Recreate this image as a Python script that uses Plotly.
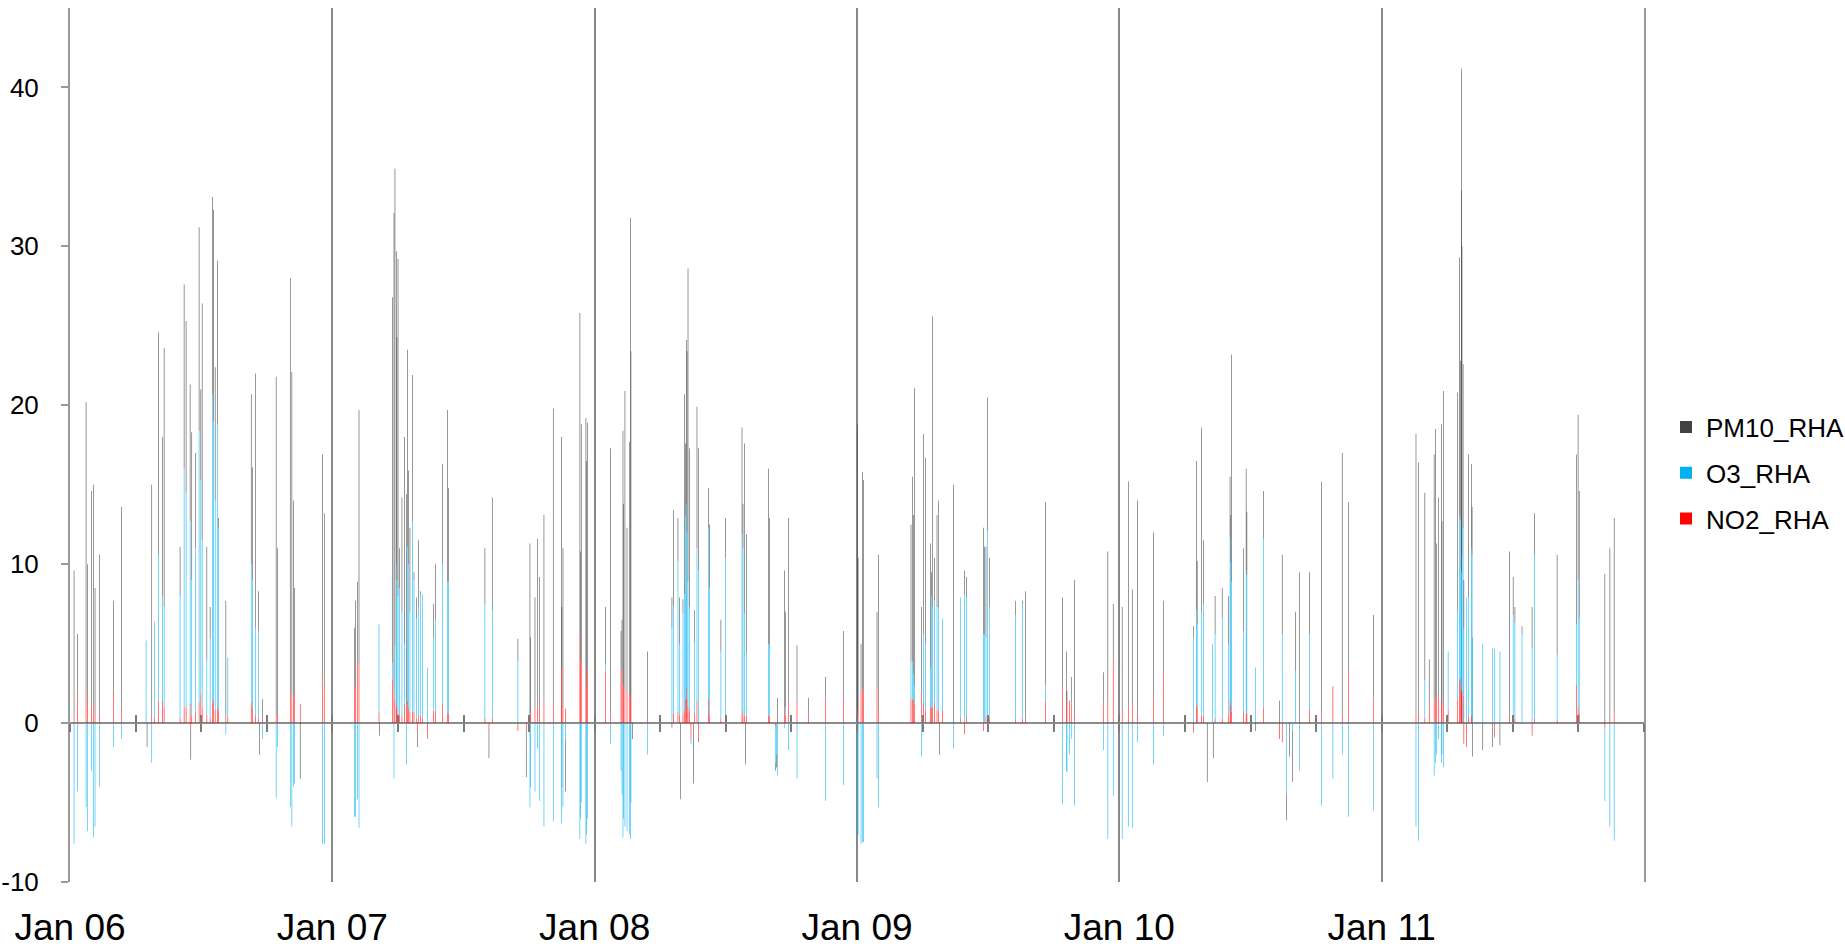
import pandas as pd
import plotly.graph_objects as go

# ---------------- data (hours after 2021-01-06 00:00) ----------------
hours = [
    0.37, 0.67, 1.47, 1.59, 1.98, 2.14, 2.29, 2.69, 3.97, 4.73, 6.96, 7.05, 7.48, 7.72, 8.09, 8.46, 8.61,
    10.07, 10.44, 10.62, 10.99, 11.05, 11.14, 11.5, 11.81, 11.97, 12.09, 12.52, 12.82, 13.03, 13.13, 13.28,
    13.49, 13.58, 14.26, 14.44, 16.58, 16.68, 16.97, 17.25, 17.32, 17.61, 18.86, 18.99, 20.15, 20.3, 20.45,
    20.54, 21.06, 23.11, 23.26,
    26.04, 26.13, 26.29, 26.44, 28.27, 28.33, 29.49, 29.64, 29.73, 29.85, 29.91, 30.01, 30.16, 30.37, 30.62,
    30.77, 30.89, 30.95, 31.1, 31.35, 31.47, 31.71, 31.77, 31.9, 32.08, 32.23, 32.69, 33.24, 33.45, 34.06,
    34.52, 34.61, 37.96, 38.33, 38.63, 40.98, 41.74, 42.08, 42.14, 42.54, 42.78, 42.93, 43.36, 44.21, 44.95,
    45.0, 45.1, 45.34, 46.65, 46.71, 46.77, 47.2, 47.26, 47.35,
    49.01, 49.43, 50.41, 50.5, 50.59, 50.65, 50.77, 50.96, 51.17, 51.26, 51.32, 51.48, 52.85, 55.07, 55.23,
    55.62, 55.77, 55.84, 56.08, 56.23, 56.29, 56.38, 56.45, 56.54, 56.66, 56.81, 57.05, 57.15, 57.36, 57.51,
    58.43, 58.49, 59.55, 59.98, 61.48, 61.57, 61.72, 61.78, 61.9, 63.91, 64.0, 64.52, 64.63, 64.74, 65.35,
    65.44, 65.74, 66.51, 67.57, 69.13, 70.77,
    72.04, 72.1, 72.37, 72.52, 72.61, 73.83, 73.98, 76.94, 77.09, 77.15, 77.24, 77.91, 78.1, 78.28, 78.71,
    78.8, 78.92, 79.1, 79.32, 79.47, 79.53, 79.84, 80.84, 81.45, 81.85, 82.0, 83.59, 83.68, 83.8, 83.95,
    84.1, 86.48, 87.15, 87.4, 89.23, 90.81, 91.15, 91.21, 91.45, 91.6, 91.91, 94.53, 94.95, 95.44,
    96.26, 96.82, 97.18, 97.67, 99.14, 100.02, 102.8, 103.06, 103.12, 103.52, 103.71, 104.04, 104.53,
    104.59, 104.76, 105.41, 106.0, 106.13, 106.2, 106.26, 107.37, 107.6, 107.67, 108.45, 109.17, 110.64,
    110.9, 111.29, 111.56, 111.85, 112.11, 112.47, 113.39, 114.5, 115.54, 116.39, 116.95, 119.24,
    123.14, 123.37, 123.95, 124.35, 124.8, 124.93, 125.0, 125.2, 125.46, 125.52, 125.65, 126.08, 126.96,
    127.12, 127.19, 127.29, 127.32, 127.35, 127.45, 127.52, 127.78, 127.94, 128.2, 128.27, 128.33, 129.25,
    130.16, 130.33, 130.82, 131.7, 132.03, 132.19, 132.84, 133.76, 133.99, 136.05, 137.81, 137.97, 138.07,
    140.42, 140.88, 141.27,
]

pm10 = [
    9.1, 3.8, 18.2, 9.0, 13.6, 13.8, 8.0, 10.2, 5.7, 12.8, 0.0, -1.5, 14.5, 0.0, 14.0, 10.0, 16.3,
    3.1, 11.6, 10.8, 8.6, -2.0, 9.3, 6.0, 12.8, 5.7, 14.9, 7.1, 2.0, 12.4, 13.3, 8.4,
    10.3, 0.6, 7.2, 0.0, 10.7, 7.1, 16.0, 2.5, -2.0, 1.2, 21.3, 10.5, 26.0, 20.5, 12.5,
    6.5, -3.5, 14.0, 11.0,
    3.5, 5.5, 5.0, 16.0, 0.0, -0.8, 23.0, 30.0, 30.0, 19.7, 15.3, 21.2, 2.5, 7.2, 13.0,
    13.4, 12.4, 5.9, 5.3, 9.2, 0.5, 1.3, -1.0, 4.2, 0.2, 0.0, 0.0, 2.1, 3.5, 6.3,
    10.8, 5.9, 3.5, -1.7, 7.1, 1.4, -3.0, 10.7, 4.8, 6.9, 10.6, 8.2, 11.6, 18.6, 14.5,
    3.8, 10.0, -3.3, 20.1, 6.8, 15.0, 17.0, 13.5, 15.5,
    3.6, 16.8, 2.3, 3.2, 16.0, 11.5, 18.8, 10.5, 15.7, 30.0, 22.0, -1.0, 4.3, 1.9, 6.0,
    2.7, 2.9, -4.8, 0.9, 12.6, 4.6, 10.3, 11.4, 19.7, 10.0, 0.0, -3.5, 2.0, 8.9, 7.7,
    2.5, 4.0, 2.0, 2.5, 6.7, 2.8, 10.7, -2.6, 7.4, 11.0, 8.0, -0.5, -0.8, 1.3, 8.7,
    6.0, 11.6, 3.5, 1.1, 1.2, 4.1,
    18.0, 9.6, 3.0, 13.6, 13.3, 4.8, 10.0, 8.6, 11.6, 10.0, 18.7, 5.3, 12.6, 11.7, 7.8,
    1.5, 18.3, 2.7, 5.8, 6.7, -2.0, 0.0, 15.0, 0.0, 1.5, 1.3, 6.7, 5.5, 5.7, 8.4,
    3.1, 0.9, 0.2, 8.0, 11.5, 5.7, 2.9, 1.0, 0.1, 1.6, 8.6, 1.9, 9.5, 3.6,
    6.5, 14.2, 7.2, 13.5, 10.2, 4.5, 0.7, 9.4, 4.0, 11.6, 4.0, -3.7, 0.0,
    -2.2, 2.4, 1.9, 3.0, 3.8, 3.0, 14.3, 5.2, 6.4, 4.0, -0.5, 3.0, 1.4,
    5.0, -1.6, -2.1, -3.2, 3.7, 9.5, 3.9, 14.7, 0.0, 16.5, 10.5, 5.1,
    17.7, 15.9, 11.8, 2.8, 15.5, 17.0, 9.5, 12.5, 17.3, 11.5, 19.9, 0.0, 13.8,
    16.3, 10.0, 31.6, 24.0, 19.5, 10.3, 3.0, 0.0, 9.0, 5.3, 3.0, -2.1, -1.7,
    -1.5, 0.0, -1.4, 10.4, 2.4, 1.0, 0.5, 2.6, 2.6, 6.3, 10.7, 10.4, 8.0,
    9.4, 10.8, 12.2,
]

o3 = [
    -7.6, -4.3, -5.3, -6.8, -3.0, -7.2, -6.5, -4.0, -1.5, -1.0, 5.2, 0.0, -2.5, 6.0, 9.2, 6.6, 6.3,
    7.7, 15.0, 13.5, 11.5, 0.0, 8.5, 10.3, 17.1, 13.5, 10.5, 3.5, 5.0, 19.4, 17.5, 13.2,
    17.8, 11.5, -0.7, 3.8, 8.7, 8.0, 5.5, 5.5, 0.0, -1.0, -4.7, -1.5, -5.3, -6.5, -4.0,
    -3.8, 0.0, -7.6, -7.6,
    -5.9, -5.9, -4.8, -6.6, 5.5, 0.0, 1.1, -3.5, 3.5, 9.0, 8.0, 7.4, 8.0, 6.5, 3.8,
    -2.6, 9.7, 9.0, 6.3, 12.0, 8.3, 6.3, 0.0, 6.8, 7.6, 7.8, 3.5, 4.6, 5.7, 8.8,
    8.3, 8.3, 7.2, 0.0, 6.8, 3.9, 0.0, -5.3, -4.0, -4.3, -1.6, -4.9, -6.5, -6.2, -6.3,
    -4.0, -5.3, -1.0, -7.3, -6.0, -5.0, -7.6, -7.0, -6.0,
    0.4, -1.3, -3.0, -4.5, -7.2, -6.0, -6.5, -6.8, -7.0, -7.3, -5.0, 0.0, -2.0, 6.0, 6.8,
    9.5, 4.5, 0.0, 6.3, 7.3, 11.5, 11.6, 10.5, 7.9, 6.5, -0.3, 0.0, 4.5, 9.6, 9.6,
    10.8, 8.0, 4.2, 10.0, 11.1, 10.5, 6.4, 0.0, 4.0, 4.5, 4.5, -2.3, -2.0, -3.3, -0.3,
    0.5, -1.7, -3.5, 0.0, -4.9, -3.9,
    -7.3, -7.0, -7.6, -7.5, -7.5, -3.5, -5.3, 2.4, 2.4, 1.6, 1.2, -2.1, 4.3, 4.2, 2.5,
    7.0, 6.3, 6.4, 6.5, 6.5, 0.0, 5.8, -1.6, 7.6, 8.1, 7.5, 5.6, 5.6, 5.0, 11.7,
    7.0, 6.6, 7.2, 0.0, 1.0, -5.1, -3.0, -3.1, -2.0, -1.0, -5.2, -1.7, -7.3, -4.6,
    -7.3, -6.5, -6.6, -1.2, -2.6, -0.8, 5.4, 6.0, 5.2, 6.5, 7.0, 0.0, 5.0,
    0.0, 5.3, 6.3, 4.5, 10.2, 9.0, 8.2, 5.0, 9.0, 8.7, 3.5, 10.6, 0.0,
    5.6, -4.5, 0.0, -0.5, 3.3, -3.0, 4.7, -5.2, -3.5, -2.0, -5.9, -5.5,
    -6.5, -7.4, 2.4, 0.0, -3.3, -2.5, -2.0, -1.0, -2.5, -2.0, -2.8, 3.7, 5.5,
    10.3, 10.0, 7.4, 7.5, 8.5, 10.6, 6.0, 7.9, 7.5, 10.5, 10.2, 5.4, 5.0,
    4.7, 4.7, 4.5, 0.0, 6.5, 6.0, 5.6, 4.7, 10.3, 4.1, 3.8, 8.0, 6.0,
    -4.6, -6.5, -7.4,
]

no2 = [
    0.5, 1.8, 2.0, 1.0, 1.0, 1.2, 0.5, 0.4, 2.0, 0.8, 0.0, 0.0, 0.5, 0.4, 1.4, 1.4, 1.0,
    0.3, 1.0, 1.0, 1.2, -0.3, 0.5, 0.7, 1.3, 1.8, 1.0, 0.5, 0.3, 1.3, 1.5, 0.8,
    1.0, 0.8, 0.5, 0.3, 1.3, 1.0, 0.5, 0.3, 0.0, 0.3, 0.5, 0.5, 2.0, 1.6, 1.5,
    2.0, 1.2, 2.9, 2.2,
    2.5, 2.2, 3.9, 3.7, 0.7, 0.0, 2.7, 2.1, 1.4, 1.0, 1.0, 0.6, 0.5, 0.5, 1.2,
    1.0, 1.4, 1.0, 0.7, 0.7, 0.7, 0.3, -0.5, 0.5, 0.5, 0.3, -1.0, 0.8, 0.8, 1.2,
    0.6, 0.6, 0.3, -0.5, 0.3, -0.5, -0.4, 0.6, 0.6, 1.0, 1.0, 1.0, 1.5, 1.2, 3.5,
    3.5, 1.0, 0.9, 5.7, 4.0, 3.8, 2.2, 3.0, 3.4,
    3.3, 0.5, 3.5, 3.3, 2.4, 2.3, 2.1, 1.8, 2.0, 1.8, 1.4, 0.0, 0.2, -0.3, 0.6,
    0.7, 0.5, 0.0, 0.6, 0.8, 1.5, 2.2, 1.5, 1.0, 0.8, -1.0, -0.3, 0.6, 1.4, -1.2,
    1.5, 0.5, 0.3, 0.4, 0.8, 0.5, 0.5, 0.0, 0.5, 0.5, 0.4, -0.2, 0.0, 0.3, 0.9,
    0.5, 1.3, 1.4, 0.5, 1.7, 1.7,
    0.8, 0.8, 2.0, 2.2, 2.0, 2.2, 0.6, 1.5, 1.5, 1.5, 1.2, 2.0, 1.3, 0.8, 1.0,
    1.0, 1.0, 1.3, 0.8, 0.8, 0.0, 0.8, 0.0, 0.3, -0.7, 0.4, -0.5, 0.0, 0.4, 0.4,
    0.3, 0.2, 0.3, 0.3, 1.4, 2.2, 1.6, 1.0, 1.3, 1.3, 0.4, 1.3, 1.3, 3.9,
    0.8, 1.0, 1.2, 0.5, 1.8, 3.2, -0.6, 1.1, 1.0, 0.5, 0.5, 0.0, 0.0,
    0.0, 0.3, 0.3, 0.5, 1.5, 1.1, 0.7, 0.8, 0.6, 0.6, 0.0, 1.0, -1.0,
    -1.2, 0.0, 0.0, 0.0, 0.0, 0.0, 0.9, 0.5, 2.3, 0.5, 3.4, 1.7,
    0.5, 0.5, 0.3, 1.2, 1.4, 1.5, 1.8, 1.7, 1.5, 1.2, 1.0, 0.8, 1.5,
    2.7, 2.8, 2.2, 2.0, 2.0, 1.7, -1.3, -1.5, 0.4, 0.5, 0.4, 0.0, 0.0,
    0.0, -0.9, 0.0, 0.4, 0.3, 0.3, 0.0, -0.8, 0.3, 0.2, 2.4, 1.0, 0.6,
    -0.3, 0.2, 0.7,
]

series_names = ["NO2_RHA", "O3_RHA", "PM10_RHA"]
series_colors = ["rgba(255,0,0,0.99)", "rgba(0,176,240,0.99)", "rgba(64,64,64,0.99)"]
legend_ranks = [3, 2, 1]
day_labels = ["Jan 06", "Jan 07", "Jan 08", "Jan 09", "Jan 10", "Jan 11"]
y_ticks = [-10, 0, 10, 20, 30, 40]
y_tick_text = ["-10", "0", "10", "20", "30", "40"]

start = pd.Timestamp("2021-01-06")
times = start + pd.to_timedelta(hours, unit="h")
x_end = start + pd.Timedelta(days=6)
day_vals = [start + pd.Timedelta(days=i) for i in range(len(day_labels))]

BAR_MS = 180000  # thin bars (~half a pixel)
FONT = "Liberation Sans, Arial, sans-serif"

fig = go.Figure()
for name, color, vals, rank in zip(series_names, series_colors, [no2, o3, pm10], legend_ranks):
    fig.add_trace(go.Bar(
        x=times, y=vals, name=name, width=BAR_MS,
        marker=dict(color=color, line=dict(width=0)),
        legendgroup=name, legendrank=rank,
    ))

# empty helper traces so the tick-only overlay axes are drawn at y = 0
for ax in ["x2", "x3"]:
    fig.add_trace(go.Scatter(x=[], y=[], xaxis=ax, showlegend=False, hoverinfo="skip"))

zero_pos = 10 / 55

common_minor = dict(
    overlaying="x", anchor="free", position=zero_pos, range=[start, x_end],
    tick0=start, dtick=6 * 3600 * 1000, ticklen=8, tickwidth=2, tickcolor="#7a7a7a",
    showticklabels=False, showgrid=False, zeroline=False, showline=False,
    type="date", fixedrange=True,
)

fig.update_layout(
    width=1845, height=952,
    margin=dict(l=70, r=201, t=8, b=70, autoexpand=False),
    paper_bgcolor="white", plot_bgcolor="white",
    barmode="relative", bargap=0.2,
    font=dict(family=FONT, color="black"),
    showlegend=True,
    legend=dict(
        xref="container", yref="container",
        x=1666 / 1845, xanchor="left", y=1 - 473 / 952, yanchor="middle",
        font=dict(size=26, family=FONT, color="black"),
        traceorder="grouped", tracegroupgap=9,
        bgcolor="rgba(0,0,0,0)", borderwidth=0,
    ),
    xaxis=dict(
        type="date", range=[start, x_end],
        tickvals=day_vals, ticktext=day_labels,
        ticks="", showgrid=True, gridcolor="#888888", gridwidth=2,
        showline=False, zeroline=False,
        tickfont=dict(size=37, family=FONT, color="black"),
        ticklabelstandoff=20, automargin=False,
    ),
    xaxis2=dict(ticks="outside", **common_minor),
    xaxis3=dict(ticks="inside", **common_minor),
    yaxis=dict(
        range=[-10, 45], tickvals=y_ticks, ticktext=y_tick_text,
        showgrid=False, zeroline=True, zerolinecolor="#8c8c8c", zerolinewidth=2,
        showline=True, linecolor="#999999", linewidth=2, mirror=True,
        ticks="outside", ticklen=7, tickwidth=2, tickcolor="#999999",
        tickfont=dict(size=26, family=FONT, color="black"),
        ticklabelstandoff=17, automargin=False,
    ),
)

fig.write_html("out.html")
